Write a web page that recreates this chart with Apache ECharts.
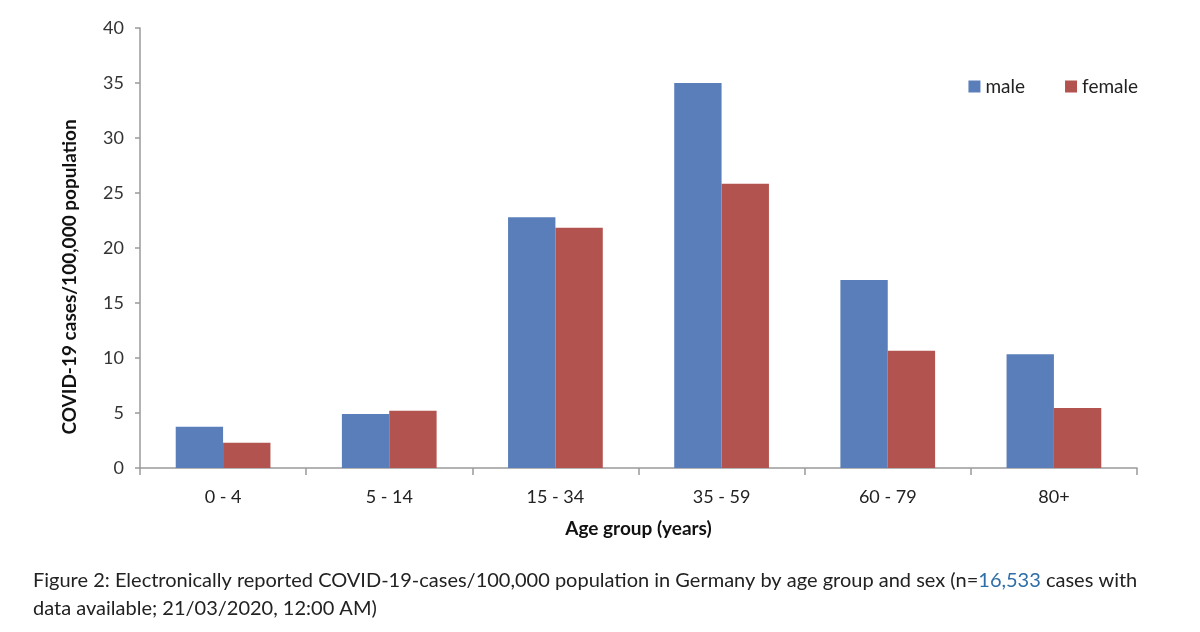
<!DOCTYPE html>
<html>
<head>
<meta charset="utf-8">
<script src="https://cdn.jsdelivr.net/npm/echarts@6/dist/echarts.min.js"></script>
<style>html,body{margin:0;padding:0;background:#fff}#c{width:1200px;height:632px}</style>
</head>
<body>
<div id="c"></div>
<script>
const categories = ['0 - 4', '5 - 14', '15 - 34', '35 - 59', '60 - 79', '80+'];
const male = [3.75, 4.9, 22.8, 35.0, 17.1, 10.35];
const female = [2.3, 5.2, 21.85, 25.85, 10.65, 5.45];
const yTicks = { min: 0, max: 40, interval: 5 };

const chart = echarts.init(document.getElementById('c'));
const font = 'Lato, "Open Sans", sans-serif';
chart.setOption({
  backgroundColor: '#fff',
  animation: false,
  textStyle: { fontFamily: font },
  title: {
    left: 28, top: 562,
    text: '{a|Figure 2: Electronically reported COVID-19-cases/100,000 population in Germany by age group and sex (n=}{b|16,533}{a| cases with}\n{a|data available; 21/03/2020, 12:00 AM)}',
    textStyle: {
      fontWeight: 'normal',
      rich: {
        a: { fontSize: 20, fontWeight: 'normal', color: '#222', fontFamily: font, lineHeight: 28 },
        b: { fontSize: 20, fontWeight: 'normal', color: '#2f6ea8', fontFamily: font, lineHeight: 28 }
      }
    }
  },
  legend: {
    right: 57, top: 72,
    itemWidth: 12, itemHeight: 12, itemGap: 40,
    icon: 'rect',
    textStyle: { fontSize: 19, color: '#222', fontFamily: font }
  },
  graphic: [{
    type: 'text',
    x: 70, y: 277,
    rotation: Math.PI / 2,
    style: {
      text: 'COVID-19 cases/100,000 population',
      fontSize: 19, fontWeight: 'bold', fill: '#111', fontFamily: font,
      align: 'center', verticalAlign: 'middle'
    }
  }],
  grid: { left: 140, right: 63, top: 28, bottom: 164 },
  xAxis: {
    type: 'category',
    data: categories,
    name: 'Age group (years)',
    nameLocation: 'middle',
    nameGap: 51,
    nameTextStyle: { fontSize: 19, fontWeight: 'bold', color: '#111', fontFamily: font },
    axisLine: { lineStyle: { color: '#9a9a9a', width: 1.5 } },
    axisTick: { show: true, length: 7, lineStyle: { color: '#9a9a9a', width: 1.5 } },
    axisLabel: { fontSize: 18, color: '#222', margin: 20, fontFamily: font }
  },
  yAxis: {
    type: 'value',
    min: yTicks.min, max: yTicks.max, interval: yTicks.interval,
    axisLine: { show: true, lineStyle: { color: '#9a9a9a', width: 1.5 } },
    axisTick: { show: true, length: 5, lineStyle: { color: '#9a9a9a', width: 1.5 } },
    splitLine: { show: false },
    axisLabel: { fontSize: 18, color: '#333', margin: 16, fontFamily: font }
  },
  series: [
    { name: 'male', type: 'bar', data: male, itemStyle: { color: '#5a7eba' }, barGap: '0%', barCategoryGap: '43%' },
    { name: 'female', type: 'bar', data: female, itemStyle: { color: '#b2534f' }, barGap: '0%', barCategoryGap: '43%' }
  ]
});
</script>
</body>
</html>
